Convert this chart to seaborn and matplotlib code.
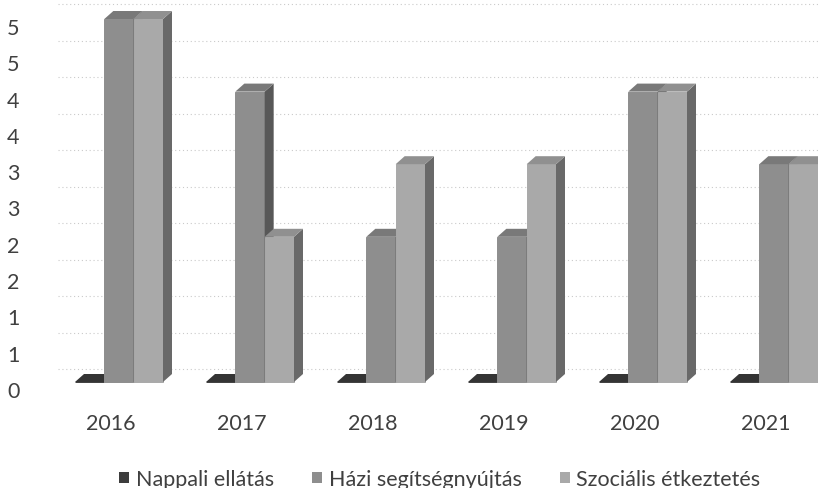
import numpy as np
import pandas as pd
import matplotlib
matplotlib.use("Agg")
import matplotlib.pyplot as plt
from matplotlib.patches import Polygon, Patch
from matplotlib.colors import to_rgb, to_hex
import seaborn as sns

# --- data -------------------------------------------------------------
years = ["2016", "2017", "2018", "2019", "2020", "2021"]
series = ["Nappali ellátás", "Házi segítségnyújtás", "Szociális étkeztetés"]
nappali = [0, 0, 0, 0, 0, 0]
hazi = [5, 4, 2, 2, 4, 3]
szocialis = [5, 2, 3, 3, 4, 3]
y_ticks = np.arange(0, 5.01, 0.5)

# --- style ------------------------------------------------------------
front_colors = ["#3d3d3d", "#8e8e8e", "#a9a9a9"]
text_color = "#404040"
font_size = 15.5

sns.set_theme(style="white")
plt.rcParams["font.family"] = ["Lato", "DejaVu Sans"]

W, H = 818, 489
fig = plt.figure(figsize=(W / 100, H / 100), dpi=100)
fig.patch.set_facecolor("white")

# plot geometry (pixels)
ax_left, ax_right = 50, 818
ax_top, ax_bottom = 2, 400
zero_px = 383            # baseline of the bar fronts
px_per_unit_y = 72.6
first_center_px = 119
px_per_cat = 131
depth_x, depth_y = 9, 8  # pseudo-3D depth of the columns

ax = fig.add_axes([ax_left / W, 1 - ax_bottom / H,
                   (ax_right - ax_left) / W, (ax_bottom - ax_top) / H])
ax.set_facecolor("none")

df = pd.DataFrame({
    "Év": years * 3,
    "Érték": nappali + hazi + szocialis,
    "Ellátás": np.repeat(series, len(years)),
})
sns.barplot(data=df, x="Év", y="Érték", hue="Ellátás", hue_order=series,
            palette=front_colors, width=88 / px_per_cat, saturation=1,
            errorbar=None, linewidth=0, legend=False, ax=ax)

xlim = ((ax_left - first_center_px) / px_per_cat,
        (ax_right - first_center_px) / px_per_cat)
ax.set_xlim(*xlim)
ax.set_ylim(-(ax_bottom - zero_px) / px_per_unit_y,
            (zero_px - ax_top) / px_per_unit_y)

# --- side and top faces of each column ----------------------------------
dx = depth_x / px_per_cat
dy = depth_y / px_per_unit_y
color_index = {to_hex(c): k for k, c in enumerate(front_colors)}
for rect in list(ax.patches):
    k = color_index.get(to_hex(rect.get_facecolor()[:3]), 0)
    base = np.array(to_rgb(front_colors[k]))
    x0, w, h = rect.get_x(), rect.get_width(), rect.get_height()
    z = 3 + k
    rect.set_zorder(z)
    # thin edge in the face colour closes the antialiasing seam between neighbours
    rect.set_edgecolor(front_colors[k])
    rect.set_linewidth(0.7)
    side = Polygon([(x0 + w, 0), (x0 + w + dx, dy), (x0 + w + dx, h + dy), (x0 + w, h)],
                   closed=True, facecolor=base * 0.62, edgecolor="none", zorder=z)
    top = Polygon([(x0, h), (x0 + w, h), (x0 + w + dx, h + dy), (x0 + dx, h + dy)],
                  closed=True, facecolor=base * 0.85, edgecolor="none", zorder=z)
    ax.add_patch(side)
    ax.add_patch(top)

# --- back-wall gridlines (dotted) -------------------------------------
grid_zero_px, grid_px_per_unit = 370, 73
grid_y = (zero_px - (grid_zero_px - grid_px_per_unit * y_ticks)) / px_per_unit_y
ax.hlines(grid_y, (58 - first_center_px) / px_per_cat, xlim[1],
          colors="#cacaca", linestyles=(0, (1, 2.5)), linewidth=0.8, zorder=1)

# --- axes ticks and labels ---------------------------------------------
label_shift = 7 / px_per_unit_y
ax.set_yticks(y_ticks - label_shift)
ax.set_yticklabels([f"{int(np.floor(v + 0.5))}" for v in y_ticks])
ax.set_xticks(np.arange(len(years)) - 8 / px_per_cat)
ax.set_xticklabels(years)
ax.tick_params(axis="y", length=0, pad=22, labelsize=font_size, labelcolor=text_color)
ax.tick_params(axis="x", length=0, pad=10, labelsize=font_size, labelcolor=text_color)
ax.set_xlabel("")
ax.set_ylabel("")
ax.grid(False)
for s in ax.spines.values():
    s.set_visible(False)

# --- legend -------------------------------------------------------------
handles = [Patch(facecolor=c, edgecolor="none") for c in front_colors]
fig.legend(handles, series, loc="center", bbox_to_anchor=(440 / W, 1 - 480 / H),
           ncol=3, frameon=False, handlelength=0.45, handleheight=0.45,
           handletextpad=0.3, columnspacing=1.8, fontsize=font_size,
           labelcolor=text_color, borderaxespad=0)

fig.savefig("out.png", dpi=100, facecolor="white")
